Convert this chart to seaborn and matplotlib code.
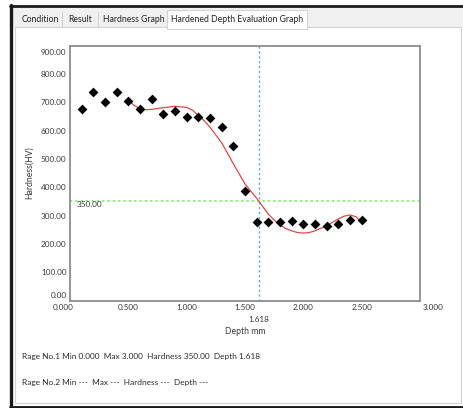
import matplotlib
matplotlib.use("Agg")
import matplotlib.pyplot as plt
import seaborn as sns
import pandas as pd
from matplotlib.patches import Rectangle
from matplotlib.lines import Line2D
from matplotlib.transforms import ScaledTranslation

# ---------------- data ----------------
depth = [0.1, 0.2, 0.3, 0.4, 0.5, 0.6, 0.7, 0.8, 0.9, 1.0, 1.1, 1.2, 1.3,
         1.4, 1.5, 1.6, 1.7, 1.8, 1.9, 2.0, 2.1, 2.2, 2.3, 2.4, 2.5]
hardness = [675, 735, 700, 737, 705, 677, 711, 660, 670, 647, 647, 644, 613,
            547, 388, 277, 277, 277, 280, 270, 270, 264, 271, 283, 283]
fit_depth = [0.5, 0.55, 0.6, 0.65, 0.7, 0.8, 0.9, 1.0, 1.05, 1.1, 1.15, 1.2,
             1.3, 1.4, 1.5, 1.6, 1.7, 1.75, 1.8, 1.85, 1.9, 1.95, 2.0, 2.05,
             2.1, 2.2, 2.3, 2.35, 2.4, 2.45, 2.5]
fit_hardness = [707, 689, 678, 674, 675, 681, 686, 682, 672, 654, 635, 612,
                557, 483, 412, 361, 305, 284, 267, 254, 246, 240, 238, 240,
                246, 264, 288, 298, 302, 296, 275]
threshold = 350.0
eff_depth = 1.618
x_ticks = [0.0, 0.5, 1.0, 1.5, 2.0, 2.5, 3.0]
y_ticks = [0, 100, 200, 300, 400, 500, 600, 700, 800, 900]
tabs = ["Condition", "Result", "Hardness Graph", "Hardened Depth Evaluation Graph"]
info_lines = ["Rage No.1 Min 0.000  Max 3.000  Hardness 350.00  Depth 1.618",
              "Rage No.2 Min ---  Max ---  Hardness ---  Depth ---"]

sns.set_style("white")
plt.rcParams["font.family"] = ["Lato", "DejaVu Sans"]

W, H = 463, 408
fig = plt.figure(figsize=(W / 100, H / 100), dpi=100)
fig.patch.set_facecolor("white")


def fx(px):
    return px / W


def fy(py):
    return 1 - py / H


def frect(x0, y0, x1, y1, fc, ec="none", lw=0.8, z=0):
    fig.patches.append(Rectangle((fx(x0), fy(y1)), fx(x1) - fx(x0), fy(y0) - fy(y1),
                                 transform=fig.transFigure, facecolor=fc,
                                 edgecolor=ec, linewidth=lw, zorder=z))


def fline(x0, y0, x1, y1, color, lw):
    fig.lines.append(Line2D([fx(x0), fx(x1)], [fy(y0), fy(y1)],
                            transform=fig.transFigure, color=color, linewidth=lw))


# window chrome
frect(12, 7, 463, 28, "#f0f0f0")
frect(15, 27, 461, 403, "white", ec="#d4d4d4", lw=0.8)
frect(167, 10, 307, 28.5, "white", ec="#d4d4d4", lw=0.8, z=1)
fline(62, 12, 62, 27, "#d0d0d0", 0.7)
fline(97.7, 12, 97.7, 27, "#d0d0d0", 0.7)
fline(10, 5.5, 463, 5.5, "#1a1a1a", 2.0)
fline(11, 5, 11, 407, "#1a1a1a", 2.4)
fline(10, 406.5, 463, 406.5, "#1a1a1a", 2.0)

TXT = 6.2
INFO = 5.95
TICK = 5.9
tab_x = [40, 80, 133.5, 237.5]
for t, x in zip(tabs, tab_x):
    fig.text(fx(x), fy(19), t, ha="center", va="center", fontsize=TXT, color="#222222")

# ---------------- plot ----------------
ax = fig.add_axes([fx(70), fy(300.5), fx(420) - fx(70), fy(45.7) - fy(300.5)])
ax.set_zorder(10)
ax.set_facecolor("white")

pts = pd.DataFrame({"Depth": depth, "Hardness": hardness})
fit = pd.DataFrame({"Depth": fit_depth, "Hardness": fit_hardness})

ax.axhline(threshold, color="#66ee55", linestyle=(0, (1.5, 2)), linewidth=1.1, zorder=1)
ax.axvline(eff_depth, color="#55aabb", linestyle=(0, (1.5, 2)), linewidth=1.0, zorder=1)
sns.lineplot(data=fit, x="Depth", y="Hardness", ax=ax, color="#e04848",
             linewidth=0.9, zorder=2, sort=True)
sns.scatterplot(data=pts, x="Depth", y="Hardness", ax=ax, marker="D", s=25,
                color="black", edgecolor="black", linewidth=0, zorder=3)

ax.set_xlim(0, 3.0)
ax.set_ylim(0, 900)
ax.set_xticks(x_ticks)
ax.set_yticks(y_ticks)
ax.set_xticklabels([f"{v:.3f}" for v in x_ticks])
ax.set_yticklabels([f"{v:.2f}" for v in y_ticks])
ax.tick_params(direction="in", length=4.5, width=0.9, color="#666666",
               labelsize=TICK, labelcolor="#3a3a3a", pad=2.5)
for s in ax.spines.values():
    s.set_color("#8c8c8c")
    s.set_linewidth(1.3)

ax.set_xlabel("Depth mm", fontsize=TXT, color="#3a3a3a")
ax.set_ylabel("Hardness(HV)", fontsize=TXT, color="#3a3a3a")
ax.xaxis.set_label_coords(0.5, -(327 - 300.5) / 254.8)
ax.yaxis.set_label_coords(-(70 - 34) / 350, 0.5)

ax.text(eff_depth, -(320 - 300.5) / 254.8, f"{eff_depth:.3f}",
        transform=ax.get_xaxis_transform(),
        ha="center", va="center", fontsize=TICK, color="#3a3a3a")
ax.text(0.02, threshold, f"{threshold:.2f}", transform=ax.get_yaxis_transform(),
        ha="left", va="top", fontsize=TICK, color="#3a3a3a")

# shift the end tick labels like the original software does
xl = ax.get_xticklabels()
xl[0].set_transform(xl[0].get_transform() + ScaledTranslation(-0.07, 0, fig.dpi_scale_trans))
xl[-1].set_transform(xl[-1].get_transform() + ScaledTranslation(0.13, 0, fig.dpi_scale_trans))
yl = ax.get_yticklabels()
yl[0].set_transform(yl[0].get_transform() + ScaledTranslation(0, 0.05, fig.dpi_scale_trans))
yl[-1].set_transform(yl[-1].get_transform() + ScaledTranslation(0, -0.06, fig.dpi_scale_trans))

for i, line in enumerate(info_lines):
    fig.text(fx(22.5), fy(357 + 25 * i), line, ha="left", va="center",
             fontsize=INFO, color="#2a2a2a")

fig.savefig("out.png", dpi=100)
